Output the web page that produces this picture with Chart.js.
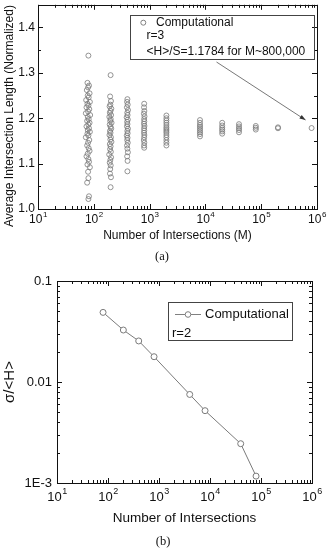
<!DOCTYPE html>
<html>
<head>
<meta charset="utf-8">
<script src="https://cdn.jsdelivr.net/npm/chart.js@4"></script>
<style>
  body { margin: 0; background: #fff; }
  canvas { display: block; }
</style>
</head>
<body>
<canvas id="chartA" width="327" height="270"></canvas>
<canvas id="chartB" width="327" height="280"></canvas>
<script>
// ── data (a): normalized average intersection length vs M ──
var m80  = [80, 77, 82, 79, 75, 84, 78, 81, 73, 85, 77, 80, 74, 83, 79, 72, 86, 78, 81, 76, 84, 80, 74, 82, 78, 85, 77, 80, 72, 83, 79, 76, 81, 84, 78, 74, 80, 82, 77, 85, 79, 80, 76, 82, 80];
var h80  = [1.338, 1.278, 1.272, 1.268, 1.262, 1.255, 1.250, 1.246, 1.240, 1.236, 1.232, 1.228, 1.224, 1.220, 1.215, 1.211, 1.207, 1.203, 1.198, 1.194, 1.190, 1.186, 1.182, 1.178, 1.174, 1.170, 1.166, 1.162, 1.158, 1.152, 1.146, 1.140, 1.134, 1.128, 1.122, 1.116, 1.110, 1.104, 1.098, 1.092, 1.082, 1.068, 1.058, 1.028, 1.022];
var m200 = [200, 196, 203, 198, 192, 206, 199, 194, 204, 190, 201, 197, 208, 193, 200, 205, 195, 199, 191, 203, 198, 207, 194, 200, 196, 202, 189, 204, 198, 193, 201, 197, 195, 203, 200];
var h200 = [1.295, 1.248, 1.238, 1.230, 1.226, 1.221, 1.216, 1.212, 1.207, 1.203, 1.198, 1.194, 1.190, 1.186, 1.181, 1.177, 1.172, 1.168, 1.163, 1.158, 1.153, 1.148, 1.143, 1.138, 1.132, 1.126, 1.120, 1.114, 1.108, 1.102, 1.096, 1.088, 1.078, 1.070, 1.048];
var m400 = [400, 395, 405, 392, 410, 398, 403, 388, 407, 396, 401, 393, 409, 399, 404, 390, 402, 397, 406, 394, 400, 408, 396, 403, 400];
var h400 = [1.242, 1.236, 1.230, 1.224, 1.218, 1.212, 1.207, 1.202, 1.197, 1.192, 1.187, 1.182, 1.177, 1.172, 1.167, 1.162, 1.157, 1.152, 1.146, 1.140, 1.133, 1.125, 1.116, 1.106, 1.083];
var m800 = [800, 795, 806, 790, 810, 798, 803, 792, 808, 797, 801, 794, 805, 799, 788, 804, 796, 800];
var h800 = [1.232, 1.224, 1.216, 1.210, 1.204, 1.198, 1.193, 1.188, 1.183, 1.178, 1.173, 1.168, 1.163, 1.158, 1.152, 1.146, 1.140, 1.135];
var h2000   = [1.206, 1.200, 1.195, 1.190, 1.185, 1.180, 1.176, 1.172, 1.168, 1.163, 1.158, 1.152, 1.146, 1.140];
var h8000   = [1.196, 1.190, 1.185, 1.181, 1.177, 1.173, 1.169, 1.165, 1.160];
var h20000  = [1.190, 1.184, 1.179, 1.175, 1.171, 1.166];
var h40000  = [1.187, 1.182, 1.178, 1.174, 1.169];
var h80000  = [1.183, 1.179, 1.175];
var h200000 = [1.180, 1.178];
var h800000 = [1.1784];

// ── data (b): relative spread vs number of intersections ──
var mB     = [80, 200, 400, 800, 4000, 8000, 40000, 80000];
var sigmaB = [0.0489, 0.0327, 0.0255, 0.0178, 0.00753, 0.0052, 0.00245, 0.00117];

// ── tick labels ──
var xExps    = [1, 2, 3, 4, 5, 6];
var yTicksA  = [1.0, 1.1, 1.2, 1.3, 1.4];
var yMinorA  = [1.05, 1.15, 1.25, 1.35];
var yTicksB  = [0.001, 0.01, 0.1];
var yLabelsB = ["1E-3", "0.01", "0.1"];

var FONT = "'Liberation Sans', Arial, sans-serif";
var SERIF = "'Liberation Serif', 'Times New Roman', serif";

function pairs(xs, ys) {
  return ys.map(function(y, i) { return { x: Array.isArray(xs) ? xs[i] : xs, y: y }; });
}

var scatterA = [].concat(
  pairs(m80, h80), pairs(m200, h200), pairs(m400, h400), pairs(m800, h800),
  pairs(2000, h2000), pairs(8000, h8000), pairs(20000, h20000), pairs(40000, h40000),
  pairs(80000, h80000), pairs(200000, h200000), pairs(800000, h800000)
);

function powLabel(ctx, exp, x, y, size) {
  ctx.font = size + "px " + FONT;
  var wb = ctx.measureText("10").width;
  var ss = Math.round(size * 0.68);
  ctx.font = ss + "px " + FONT;
  var we = ctx.measureText(String(exp)).width;
  var x0 = x - (wb + we) / 2;
  ctx.textAlign = "left";
  ctx.textBaseline = "middle";
  ctx.font = size + "px " + FONT;
  ctx.fillText("10", x0, y);
  ctx.font = ss + "px " + FONT;
  ctx.fillText(String(exp), x0 + wb + 0.5, y - size * 0.42);
}

function px(v) { return Math.round(v) + 0.5; }

// frame with inward ticks on all four sides, Origin style
function drawFrame(chart, c) {
  var ctx = chart.ctx, a = chart.chartArea;
  var xs = chart.scales.x, ys = chart.scales.y;
  ctx.save();
  ctx.strokeStyle = "#111";
  ctx.lineWidth = 1;
  ctx.strokeRect(px(a.left), px(a.top), Math.round(a.right - a.left), Math.round(a.bottom - a.top));
  ctx.beginPath();
  xExps.forEach(function(e, i) {
    var x = px(xs.getPixelForValue(Math.pow(10, e)));
    ctx.moveTo(x, a.bottom); ctx.lineTo(x, a.bottom - 5);
    ctx.moveTo(x, a.top); ctx.lineTo(x, a.top + 5);
    if (i < xExps.length - 1) {
      for (var k = 2; k <= 9; k++) {
        var xm = px(xs.getPixelForValue(k * Math.pow(10, e)));
        ctx.moveTo(xm, a.bottom); ctx.lineTo(xm, a.bottom - 3);
        ctx.moveTo(xm, a.top); ctx.lineTo(xm, a.top + 3);
      }
    }
  });
  c.yMajor.forEach(function(v) {
    var y = px(ys.getPixelForValue(v));
    ctx.moveTo(a.left, y); ctx.lineTo(a.left + 5, y);
    ctx.moveTo(a.right, y); ctx.lineTo(a.right - 5, y);
  });
  c.yMinor.forEach(function(v) {
    var y = px(ys.getPixelForValue(v));
    ctx.moveTo(a.left, y); ctx.lineTo(a.left + 3, y);
    ctx.moveTo(a.right, y); ctx.lineTo(a.right - 3, y);
  });
  ctx.stroke();

  ctx.fillStyle = "#111";
  xExps.forEach(function(e) {
    powLabel(ctx, e, xs.getPixelForValue(Math.pow(10, e)), a.bottom + c.xLabelGap, c.tickSize);
  });
  ctx.font = c.tickSize + "px " + FONT;
  ctx.textAlign = "right";
  ctx.textBaseline = "middle";
  c.yMajor.forEach(function(v, i) {
    ctx.fillText(c.yLabels[i], a.left - c.yLabelGap, ys.getPixelForValue(v));
  });

  ctx.textAlign = "center";
  ctx.font = c.titleSize + "px " + FONT;
  ctx.fillText(c.xTitle, (a.left + a.right) / 2, a.bottom + c.xTitleGap);
  ctx.save();
  ctx.translate(c.yTitleX, c.yTitleY);
  ctx.rotate(-Math.PI / 2);
  ctx.font = c.yTitleSize + "px " + FONT;
  ctx.fillText(c.yTitle, 0, 0);
  ctx.restore();

  ctx.font = "12.5px " + SERIF;
  ctx.fillText(c.caption, c.captionX, c.captionY);
  ctx.restore();
}

var framePluginA = {
  id: "frameA",
  afterDraw: function(chart) {
    drawFrame(chart, {
      yMajor: yTicksA, yMinor: yMinorA,
      yLabels: yTicksA.map(function(v) { return v.toFixed(1); }),
      tickSize: 12, xLabelGap: 10.5, yLabelGap: 3,
      titleSize: 12, xTitle: "Number of Intersections (M)", xTitleGap: 27,
      yTitle: "Average Intersection Length (Normalized)", yTitleSize: 12, yTitleX: 10, yTitleY: 116,
      caption: "(a)", captionX: 162, captionY: 257
    });
    var ctx = chart.ctx;
    ctx.save();
    // legend box
    ctx.strokeStyle = "#444";
    ctx.lineWidth = 1;
    ctx.strokeRect(130.5, 15.5, 184, 44);
    ctx.strokeStyle = "#808080";
    ctx.beginPath(); ctx.arc(143.3, 22.7, 2.5, 0, Math.PI * 2); ctx.stroke();
    ctx.fillStyle = "#111";
    ctx.font = "12px " + FONT;
    ctx.textAlign = "left";
    ctx.textBaseline = "middle";
    ctx.fillText("Computational", 156, 23);
    ctx.fillText("r=3", 146.5, 36);
    ctx.fillText("<H>/S=1.1784 for M~800,000", 146.5, 51.5);
    // arrow towards the M~800,000 point
    var tx = chart.scales.x.getPixelForValue(800000) - 6;
    var ty = chart.scales.y.getPixelForValue(1.1784) - 8;
    var sx = 216.5, sy = 62;
    var ang = Math.atan2(ty - sy, tx - sx);
    ctx.strokeStyle = "#555";
    ctx.lineWidth = 0.8;
    ctx.beginPath(); ctx.moveTo(sx, sy); ctx.lineTo(tx, ty); ctx.stroke();
    ctx.fillStyle = "#333";
    ctx.beginPath();
    ctx.moveTo(tx, ty);
    ctx.lineTo(tx - 6 * Math.cos(ang) + 2.2 * Math.sin(ang), ty - 6 * Math.sin(ang) - 2.2 * Math.cos(ang));
    ctx.lineTo(tx - 6 * Math.cos(ang) - 2.2 * Math.sin(ang), ty - 6 * Math.sin(ang) + 2.2 * Math.cos(ang));
    ctx.closePath(); ctx.fill();
    ctx.restore();
  }
};

var framePluginB = {
  id: "frameB",
  afterDraw: function(chart) {
    drawFrame(chart, {
      yMajor: yTicksB,
      yMinor: [0.002, 0.003, 0.004, 0.005, 0.006, 0.007, 0.008, 0.009,
               0.02, 0.03, 0.04, 0.05, 0.06, 0.07, 0.08, 0.09],
      yLabels: yLabelsB,
      tickSize: 13, xLabelGap: 14, yLabelGap: 5,
      titleSize: 13.5, xTitle: "Number of Intersections", xTitleGap: 35,
      yTitle: "σ/<H>", yTitleSize: 15, yTitleX: 10, yTitleY: 112,
      caption: "(b)", captionX: 163, captionY: 271.5
    });
    var ctx = chart.ctx;
    ctx.save();
    ctx.strokeStyle = "#444";
    ctx.lineWidth = 1;
    ctx.strokeRect(168.5, 32.5, 124, 38);
    ctx.strokeStyle = "#808080";
    ctx.beginPath(); ctx.moveTo(175, 44.5); ctx.lineTo(201, 44.5); ctx.stroke();
    ctx.fillStyle = "#fff";
    ctx.beginPath(); ctx.arc(188, 44.5, 2.8, 0, Math.PI * 2); ctx.fill(); ctx.stroke();
    ctx.fillStyle = "#111";
    ctx.font = "13px " + FONT;
    ctx.textAlign = "left";
    ctx.textBaseline = "middle";
    ctx.fillText("Computational", 205, 44.5);
    ctx.fillText("r=2", 172, 63);
    ctx.restore();
  }
};

var hidden = { display: false };

new Chart(document.getElementById("chartA"), {
  type: "scatter",
  data: {
    datasets: [{
      label: "Computational",
      data: scatterA,
      pointRadius: 2.5,
      pointBorderWidth: 0.8,
      pointBorderColor: "#7a7a7a",
      pointBackgroundColor: "rgba(255,255,255,0)"
    }]
  },
  options: {
    responsive: false,
    animation: false,
    layout: { padding: { left: 38, right: 10, top: 4, bottom: 61 } },
    plugins: { legend: hidden, tooltip: { enabled: false } },
    scales: {
      x: { type: "logarithmic", min: 10, max: 1000000, display: false },
      y: { type: "linear", min: 1.0, max: 1.45, display: false }
    }
  },
  plugins: [framePluginA]
});

new Chart(document.getElementById("chartB"), {
  type: "line",
  data: {
    datasets: [{
      label: "Computational",
      data: pairs(mB, sigmaB),
      borderColor: "#7a7a7a",
      borderWidth: 1,
      pointRadius: 3,
      pointBorderWidth: 1,
      pointBorderColor: "#7a7a7a",
      pointBackgroundColor: "#fff",
      tension: 0
    }]
  },
  options: {
    responsive: false,
    animation: false,
    layout: { padding: { left: 57, right: 15, top: 11, bottom: 67 } },
    plugins: { legend: hidden, tooltip: { enabled: false } },
    scales: {
      x: { type: "logarithmic", min: 10, max: 1000000, display: false },
      y: { type: "logarithmic", min: 0.001, max: 0.1, display: false }
    }
  },
  plugins: [framePluginB]
});
</script>
</body>
</html>
